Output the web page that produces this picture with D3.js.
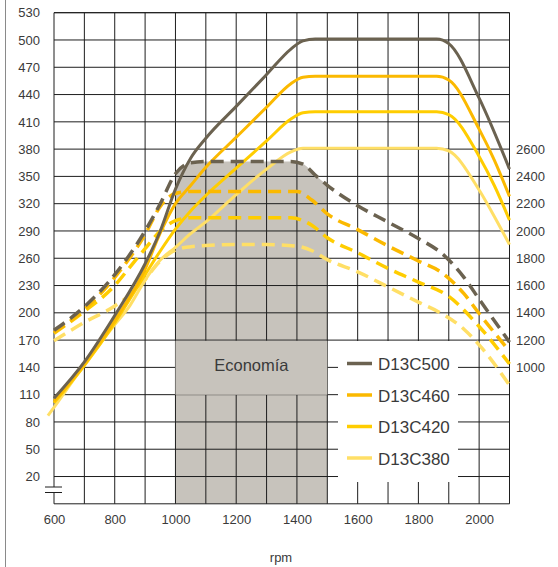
<!DOCTYPE html>
<html>
<head>
<meta charset="utf-8">
<script src="https://cdn.jsdelivr.net/npm/d3@7"></script>
<style>
  body { margin: 0; background: #fff; }
  text { font-family: "Liberation Sans", Arial, sans-serif; fill: #3a3a3a; }
  .tick text { font-size: 13px; }
</style>
</head>
<body>
<script>
var W = 558, H = 567;

// data
var models = ["D13C500", "D13C460", "D13C420", "D13C380"];
var leftTicks = d3.range(20, 531, 30);          // hp
var rightTicks = d3.range(1000, 2601, 200);     // Nm
var xTicks = [600, 800, 1000, 1200, 1400, 1600, 1800, 2000];
var econLabel = "Economía";
var econRange = [1000, 1500];

// power, hp (solid lines, left axis)
var p500 = [[600,106],[700,146],[800,197],[900,254],[950,290],[1000,336],[1050,370],[1100,392],[1200,427],[1300,462],[1380,490],[1420,499],[1460,501],[1860,501],[1900,496],[2000,436],[2100,358]];
var p460 = [[600,103],[700,144],[800,192],[900,248],[950,288],[1000,320],[1050,340],[1100,360],[1200,393],[1300,426],[1380,452],[1420,459],[1460,460],[1860,460],[1900,456],[2000,402],[2050,368],[2100,328]];
var p420 = [[600,101],[700,142],[800,189],[900,242],[950,268],[1000,292],[1050,312],[1100,329],[1200,359],[1300,389],[1380,413],[1420,420],[1460,421],[1860,421],[1900,418],[2000,372],[2050,340],[2100,302]];
var p380 = [[580,87],[600,96],[700,143],[800,187],[850,208],[900,236],[950,258],[1000,272],[1050,287],[1100,300],[1200,330],[1300,358],[1380,377],[1420,381],[1860,381],[1900,378],[2000,335],[2050,306],[2100,275]];

// torque, Nm (dashed lines, right axis)
var t500 = [[600,1272],[700,1445],[800,1680],[900,2000],[950,2200],[1000,2420],[1050,2500],[1100,2510],[1380,2510],[1420,2490],[1460,2410],[1500,2335],[1600,2185],[1700,2065],[1800,1945],[1880,1830],[1950,1660],[2000,1500],[2100,1185]];
var t460 = [[600,1255],[700,1425],[800,1660],[900,1975],[950,2180],[1000,2275],[1050,2290],[1400,2290],[1450,2225],[1500,2125],[1600,2010],[1700,1890],[1800,1780],[1880,1690],[1950,1540],[2000,1395],[2100,1118]];
var t420 = [[600,1250],[700,1410],[800,1600],[850,1735],[900,1870],[950,2000],[1000,2075],[1050,2097],[1380,2097],[1450,2040],[1500,1950],[1600,1840],[1700,1725],[1800,1625],[1900,1520],[2000,1300],[2100,1025]];
var t380 = [[600,1196],[700,1330],[800,1450],[880,1590],[950,1780],[1000,1860],[1050,1885],[1100,1893],[1200,1900],[1300,1900],[1400,1888],[1450,1855],[1500,1790],[1600,1700],[1700,1590],[1800,1478],[1880,1390],[1950,1280],[2000,1165],[2100,870]];

var power = [p500, p460, p420, p380];
var torque = [t500, t460, t420, t380];
var colors = ["#6b6250", "#fbb900", "#ffcd00", "#ffdf66"];

var x = d3.scaleLinear().domain([600, 2100]).range([54, 509.5]);
var y = d3.scaleLinear().domain([-10, 530]).range([503.8, 12.7]);
var yR = d3.scaleLinear().domain([1000, 2600]).range([y(140), y(380)]);

var svg = d3.select("body").append("svg")
    .attr("width", W)
    .attr("height", H);

// thin frame line on the left
svg.append("line")
    .attr("x1", 5.5).attr("x2", 5.5).attr("y1", 0).attr("y2", H)
    .attr("stroke", "#8a8a8a").attr("stroke-width", 1);

// economy zone: area under the D13C500 torque curve
svg.append("clipPath").attr("id", "econ")
  .append("rect")
    .attr("x", x(econRange[0])).attr("width", x(econRange[1]) - x(econRange[0]))
    .attr("y", 0).attr("height", y(-10));

svg.append("path")
    .datum(t500)
    .attr("clip-path", "url(#econ)")
    .attr("fill", "#c7c3bc")
    .attr("d", d3.area().curve(d3.curveMonotoneX)
      .x(function(d) { return x(d[0]); })
      .y0(y(-10))
      .y1(function(d) { return yR(d[1]); }));

// grid
var grid = svg.append("g").attr("stroke", "#1e1e1e").attr("stroke-width", 1);
grid.selectAll(".h")
    .data(leftTicks.concat([530])).enter()
    .append("line")
    .attr("x1", x(600)).attr("x2", x(2100))
    .attr("y1", function(d) { return y(d); })
    .attr("y2", function(d) { return y(d); });
grid.append("line")
    .attr("x1", x(600)).attr("x2", x(2100))
    .attr("y1", y(-10)).attr("y2", y(-10));
grid.selectAll(".v")
    .data(d3.range(600, 2101, 100)).enter()
    .append("line")
    .attr("x1", function(d) { return x(d); })
    .attr("x2", function(d) { return x(d); })
    .attr("y1", y(530)).attr("y2", y(-10));

// axis break on the left
svg.append("rect").attr("x", x(600) - 2).attr("y", 487).attr("width", 4).attr("height", 5.5).attr("fill", "#fff");
svg.selectAll(".brk")
    .data([487, 492.5]).enter()
    .append("line")
    .attr("x1", 45).attr("x2", 62)
    .attr("y1", function(d) { return d; })
    .attr("y2", function(d) { return d; })
    .attr("stroke", "#1e1e1e").attr("stroke-width", 1);

// label box inside the economy zone
svg.append("rect")
    .attr("x", x(econRange[0])).attr("width", x(econRange[1]) - x(econRange[0]))
    .attr("y", 340.8).attr("height", 54)
    .attr("fill", "#c7c3bc");
svg.append("text")
    .attr("x", (x(econRange[0]) + x(econRange[1])) / 2)
    .attr("y", 371)
    .attr("text-anchor", "middle")
    .style("font-size", "16.5px")
    .text(econLabel);

// legend box
svg.append("rect")
    .attr("x", 338).attr("y", 341).attr("width", 120).attr("height", 141)
    .attr("fill", "#fff");

// curves
var line = d3.line().curve(d3.curveMonotoneX)
    .x(function(d) { return x(d[0]); });

for (var i = models.length - 1; i >= 0; i--) {
  svg.append("path")
      .datum(torque[i])
      .attr("fill", "none")
      .attr("stroke", colors[i])
      .attr("stroke-width", 3.5)
      .attr("stroke-dasharray", "13,7")
      .attr("d", line.y(function(d) { return yR(d[1]); }));
  svg.append("path")
      .datum(power[i])
      .attr("fill", "none")
      .attr("stroke", colors[i])
      .attr("stroke-width", 3)
      .attr("d", line.y(function(d) { return y(d[1]); }));
}

// axes (labels only)
svg.append("g")
    .attr("transform", "translate(40,0)")
    .call(d3.axisLeft(y).tickValues(leftTicks).tickSize(0).tickPadding(0))
    .call(function(g) { g.select(".domain").remove(); });

svg.append("g")
    .attr("transform", "translate(516,0)")
    .call(d3.axisRight(yR).tickValues(rightTicks).tickSize(0).tickPadding(0).tickFormat(d3.format("d")))
    .call(function(g) { g.select(".domain").remove(); });

svg.append("g")
    .attr("transform", "translate(0,515)")
    .call(d3.axisBottom(x).tickValues(xTicks).tickSize(0).tickPadding(0).tickFormat(d3.format("d")))
    .call(function(g) { g.select(".domain").remove(); });

svg.selectAll(".tick text").style("font-size", "13px").attr("fill", "#3a3a3a");

svg.append("text")
    .attr("x", 281).attr("y", 562)
    .attr("text-anchor", "middle")
    .style("font-size", "13px")
    .text("rpm");

// legend
var leg = svg.selectAll(".leg")
    .data(models).enter()
    .append("g")
    .attr("transform", function(d, i) { return "translate(347," + (363.5 + i * 31.5) + ")"; });
leg.append("line")
    .attr("x1", 0).attr("x2", 25)
    .attr("stroke", function(d, i) { return colors[i]; })
    .attr("stroke-width", 3.5);
leg.append("text")
    .attr("x", 31).attr("y", 6.5)
    .style("font-size", "17px")
    .text(function(d) { return d; });
</script>
</body>
</html>
